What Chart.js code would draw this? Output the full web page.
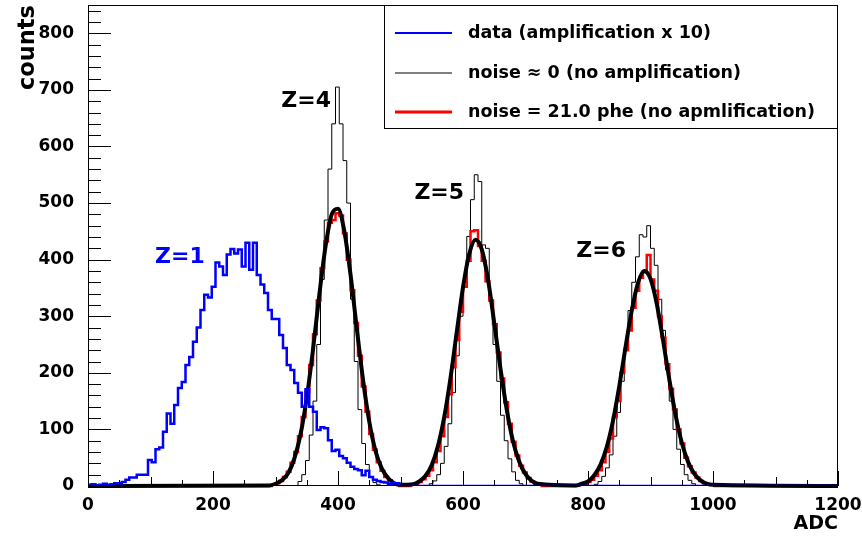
<!DOCTYPE html>
<html>
<head>
<meta charset="utf-8">
<title>ADC spectra</title>
<script src="https://cdn.jsdelivr.net/npm/chart.js@4.4.1/dist/chart.umd.min.js"></script>
<style>
  html, body { margin: 0; padding: 0; background: #fff; }
</style>
</head>
<body>
<canvas id="chart" width="862" height="536"></canvas>
<script>
// histogram binning (ADC per bin) and sampling of the fit curves
const BIN = 6;
const FIT_STEP = 10;

// data (amplification x 10) -> Z=1, bins start at 0
const blueStart = 0;
const blueCounts = [2, 3, 1, 2, 4, 2, 3, 5, 5, 7, 11, 15, 15, 20, 20, 20, 46, 42, 65, 68,
  96, 128, 110, 143, 173, 184, 214, 228, 255, 280, 311, 338, 333, 352, 395, 388, 373, 409, 419, 411,
  418, 388, 430, 382, 430, 373, 356, 341, 311, 295, 295, 267, 244, 214, 205, 182, 165, 140, 171, 140,
  131, 99, 104, 102, 81, 62, 64, 53, 49, 41, 34, 30, 28, 19, 27, 16, 11, 9, 7, 6, 4, 5, 5];

// noise ~ 0 (no amplification)
const thinZ4Start = 336;
const thinZ4 = [8, 20, 45, 90, 150, 250, 365, 470, 560, 640, 705, 640, 575, 500, 330, 220, 135, 75, 38, 16, 6, 2];
const thinZ5Start = 546;
const thinZ5 = [4, 9, 20, 40, 70, 110, 165, 230, 300, 360, 441, 506, 550, 538, 426, 420, 330, 250, 185, 125, 80, 48, 25, 10, 4];
const thinZ6Start = 810;
const thinZ6 = [3, 8, 17, 32, 55, 88, 130, 185, 245, 310, 360, 405, 444, 440, 460, 420, 390, 330, 275, 205, 150, 100, 65, 38, 20, 10, 4];

// noise = 21.0 phe (no amplification)
const redZ4Start = 294;
const redZ4 = [2, 5, 9, 16, 25, 41, 60, 88, 122, 166, 214, 268, 328, 385, 432, 465, 470, 482, 478, 446,
  400, 346, 288, 230, 176, 131, 92, 64, 42, 27, 16, 10, 5, 2];
const redZ5Start = 516;
const redZ5 = [2, 4, 7, 12, 18, 28, 42, 62, 88, 122, 162, 210, 258, 308, 352, 398, 450, 452, 424, 398,
  362, 328, 286, 236, 190, 148, 110, 78, 54, 36, 24, 14, 8, 4, 2];
const redZ6Start = 780;
const redZ6 = [1, 3, 4, 7, 11, 18, 28, 42, 60, 84, 122, 150, 200, 240, 275, 315, 345, 368, 378, 408,
  365, 345, 300, 262, 215, 172, 135, 100, 75, 50, 35, 24, 15, 9, 5, 3, 2];

// gaussian fits (thick black), sampled every FIT_STEP ADC
const fitZ4Start = 290;
const fitZ4 = [1, 4, 10, 22, 48, 91, 156, 241, 337, 423, 480, 490, 451, 374, 279, 188, 114, 62, 31, 14, 5, 2];
const fitZ5Start = 520;
const fitZ5 = [3, 8, 18, 37, 71, 122, 191, 272, 351, 410, 435, 418, 365, 288, 207, 135, 79, 43, 21, 9, 4];
const fitZ6Start = 780;
const fitZ6 = [1, 4, 8, 19, 38, 69, 115, 176, 245, 310, 359, 380, 366, 322, 258, 189, 126, 77, 43, 22, 10, 4, 2];

// axis ranges / ticks
const xMin = 0, xMax = 1200, xStep = 200;
const yMin = 0, yMax = 850, yStep = 100;

const legendLabels = ['data (amplification x 10)', 'noise \u2248 0 (no amplification)', 'noise = 21.0 phe (no apmlification)'];
const legendColors = ['#0000ff', '#000000', '#ff0000'];
const legendWidths = [2, 1, 3];

// peak labels, in data coordinates
const zLabels = [
  { text: 'Z=1', x: 147, y: 405, color: '#0000ff' },
  { text: 'Z=4', x: 349, y: 680, color: '#000' },
  { text: 'Z=5', x: 562, y: 518, color: '#000' },
  { text: 'Z=6', x: 821, y: 415, color: '#000' }
];

const FONT = "'DejaVu Sans', sans-serif";

// step-histogram points: left edge of every bin, dropping to 0 after each block
function histPoints(segments) {
  const pts = [{ x: xMin, y: 0 }];
  for (const [start, vals] of segments) {
    vals.forEach((v, i) => pts.push({ x: start + i * BIN, y: v }));
    pts.push({ x: start + vals.length * BIN, y: 0 });
  }
  pts.push({ x: xMax, y: 0 });
  return pts;
}

function curvePoints(segments) {
  const pts = [{ x: xMin, y: 0 }];
  for (const [start, vals] of segments) {
    vals.forEach((v, i) => pts.push({ x: start + i * FIT_STEP, y: v }));
  }
  pts.push({ x: xMax, y: 0 });
  return pts;
}

const rootDecor = {
  id: 'rootDecor',
  afterDatasetsDraw(chart) {
    const { ctx, chartArea: a, scales: { x, y } } = chart;
    ctx.save();
    ctx.strokeStyle = '#000';
    ctx.lineWidth = 1;
    ctx.beginPath();
    // ticks drawn inside the frame, ROOT style
    for (let v = xMin; v <= xMax; v += 50) {
      const px = Math.round(x.getPixelForValue(v)) + 0.5;
      const len = v % 200 === 0 ? 15 : (v % 100 === 0 ? 9 : 6);
      ctx.moveTo(px, a.bottom);
      ctx.lineTo(px, a.bottom - len);
    }
    for (let v = yMin; v <= yMax; v += 20) {
      const py = Math.round(y.getPixelForValue(v)) + 0.5;
      const len = v % 100 === 0 ? 23 : 13;
      ctx.moveTo(a.left, py);
      ctx.lineTo(a.left + len, py);
    }
    ctx.stroke();
    ctx.strokeRect(a.left + 0.5, a.top + 0.5, a.right - a.left - 1, a.bottom - a.top - 1);

    // Z labels
    ctx.font = 'bold 22px ' + FONT;
    ctx.textAlign = 'center';
    ctx.textBaseline = 'middle';
    for (const l of zLabels) {
      ctx.fillStyle = l.color;
      ctx.fillText(l.text, x.getPixelForValue(l.x), y.getPixelForValue(l.y));
    }

    // legend box
    const bx = 384, by = a.top, bw = a.right - bx, bh = 124;
    ctx.fillStyle = '#fff';
    ctx.fillRect(bx, by, bw, bh);
    ctx.strokeRect(bx + 0.5, by + 0.5, bw - 1, bh - 1);
    ctx.font = 'bold 17.5px ' + FONT;
    ctx.textAlign = 'left';
    const rows = [33, 73, 112];
    legendLabels.forEach((t, i) => {
      ctx.beginPath();
      ctx.strokeStyle = legendColors[i];
      ctx.lineWidth = legendWidths[i];
      ctx.moveTo(395, rows[i]);
      ctx.lineTo(452, rows[i]);
      ctx.stroke();
      ctx.fillStyle = '#000';
      ctx.fillText(t, 468, rows[i]);
    });
    ctx.restore();
  }
};

new Chart(document.getElementById('chart'), {
  type: 'line',
  data: {
    datasets: [
      {
        label: legendLabels[0],
        data: histPoints([[blueStart, blueCounts]]),
        borderColor: '#0000ff', borderWidth: 2.5, stepped: 'before',
        pointRadius: 0, fill: false, order: 0
      },
      {
        label: 'fit',
        data: curvePoints([[fitZ4Start, fitZ4], [fitZ5Start, fitZ5], [fitZ6Start, fitZ6]]),
        borderColor: '#000', borderWidth: 4, cubicInterpolationMode: 'monotone',
        pointRadius: 0, fill: false, order: 1, clip: 4
      },
      {
        label: legendLabels[2],
        data: histPoints([[redZ4Start, redZ4], [redZ5Start, redZ5], [redZ6Start, redZ6]]),
        borderColor: '#ff0000', borderWidth: 2.5, stepped: 'before',
        pointRadius: 0, fill: false, order: 2, clip: 3
      },
      {
        label: legendLabels[1],
        data: histPoints([[thinZ4Start, thinZ4], [thinZ5Start, thinZ5], [thinZ6Start, thinZ6]]),
        borderColor: '#000', borderWidth: 1, stepped: 'before',
        pointRadius: 0, fill: false, order: 3
      }
    ]
  },
  options: {
    responsive: false,
    animation: false,
    layout: { padding: { top: 5, right: 24, left: 0, bottom: 0 } },
    plugins: { legend: { display: false }, tooltip: { enabled: false } },
    scales: {
      x: {
        type: 'linear', min: xMin, max: xMax,
        grid: { display: false }, border: { display: false },
        ticks: { stepSize: xStep, autoSkip: false, maxRotation: 0, padding: 1, color: '#000',
          callback: v => String(v),
          font: { family: FONT, size: 17, weight: 'bold' } },
        title: { display: true, text: 'ADC', align: 'end', color: '#000', padding: { top: 0, bottom: 1 },
          font: { family: FONT, size: 19, weight: 'bold' } },
        afterFit(s) { s.height = 50; s.paddingLeft = 0; s.paddingRight = 0; }
      },
      y: {
        type: 'linear', min: yMin, max: yMax,
        grid: { display: false }, border: { display: false },
        ticks: { stepSize: yStep, padding: 6, color: '#000',
          callback: v => String(v),
          font: { family: FONT, size: 17, weight: 'bold' } },
        afterBuildTicks(s) { s.ticks = s.ticks.filter(t => t.value % yStep === 0); },
        title: { display: true, text: 'counts', align: 'end', color: '#000', padding: { top: 15, bottom: 0 },
          font: { family: FONT, size: 22.5, weight: 'bold' } },
        afterFit(s) { s.width = 88; s.paddingTop = 0; s.paddingBottom = 0; }
      }
    }
  },
  plugins: [rootDecor]
});
</script>
</body>
</html>
